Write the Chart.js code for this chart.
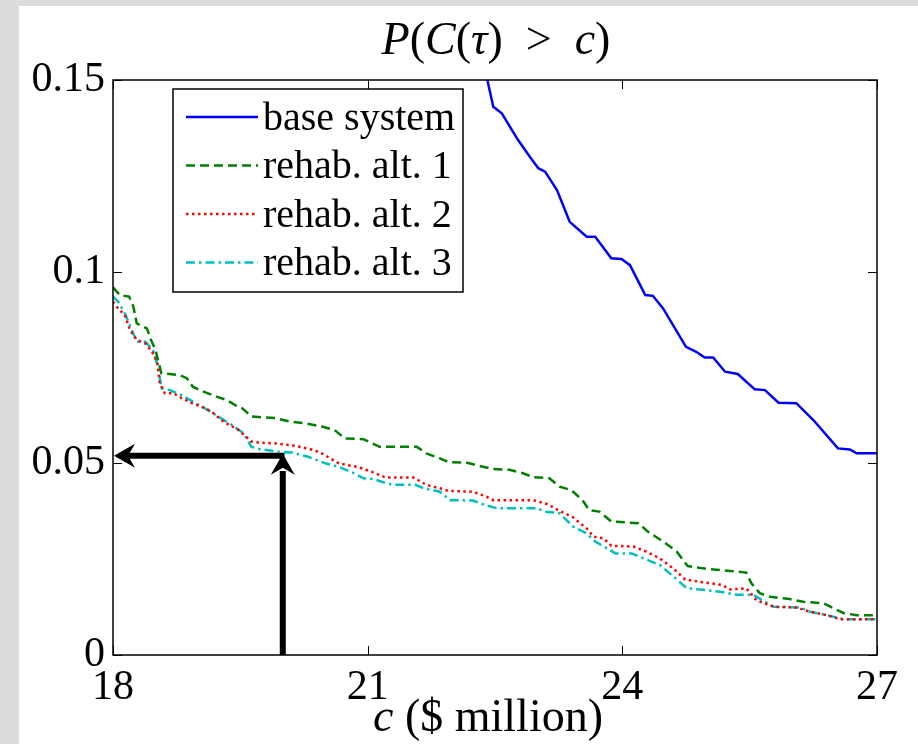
<!DOCTYPE html>
<html>
<head>
<meta charset="utf-8">
<script src="https://cdn.jsdelivr.net/npm/chart.js@4"></script>
<style>
  html, body { margin: 0; padding: 0; background: #dcdcdc; }
  #wrap { position: absolute; left: 19px; top: 6px; width: 899px; height: 738px; background: #ffffff; }
</style>
</head>
<body>
<div id="wrap"><canvas id="chart"></canvas></div>
<script>
// values (x in $ million, y = probability)
const baseX = [22.41, 22.48, 22.58, 22.77, 22.91, 23.01, 23.09, 23.23, 23.38, 23.58, 23.68, 23.87, 23.99, 24.09, 24.27, 24.36, 24.48, 24.75, 24.87, 24.97, 25.07, 25.21, 25.36, 25.56, 25.68, 25.84, 26.05, 26.25, 26.54, 26.68, 26.76, 27.0];
const baseY = [0.150, 0.143, 0.1413, 0.1344, 0.130, 0.127, 0.1261, 0.1213, 0.1130, 0.1091, 0.1091, 0.1035, 0.1033, 0.1017, 0.0939, 0.0937, 0.0904, 0.0804, 0.0791, 0.0776, 0.0776, 0.0739, 0.0733, 0.0693, 0.0691, 0.0658, 0.0657, 0.0613, 0.0539, 0.0536, 0.0526, 0.0526];

const alt1X = [18.0, 18.08, 18.19, 18.24, 18.28, 18.40, 18.44, 18.50, 18.57, 18.79, 18.87, 18.94, 19.02, 19.22, 19.34, 19.44, 19.52, 19.63, 19.91, 20.08, 20.28, 20.46, 20.61, 20.73, 20.95, 21.14, 21.58, 21.69, 21.85, 21.95, 22.16, 22.32, 22.48, 22.67, 22.83, 22.95, 23.14, 23.26, 23.40, 23.53, 23.61, 23.73, 23.87, 24.19, 24.30, 24.48, 24.64, 24.77, 24.95, 25.23, 25.46, 25.52, 25.62, 25.74, 25.97, 26.13, 26.37, 26.49, 26.61, 26.76, 27.0];
const alt1Y = [0.0959, 0.0939, 0.0935, 0.0909, 0.0865, 0.0852, 0.0826, 0.0796, 0.0735, 0.0730, 0.0722, 0.0700, 0.0691, 0.0674, 0.0665, 0.0652, 0.0644, 0.0622, 0.0618, 0.0609, 0.0604, 0.0596, 0.0587, 0.0565, 0.0563, 0.0543, 0.0543, 0.0526, 0.0513, 0.0503, 0.0502, 0.0493, 0.0485, 0.0483, 0.0474, 0.0464, 0.0461, 0.0439, 0.0430, 0.0404, 0.0378, 0.0374, 0.0348, 0.0344, 0.0322, 0.0296, 0.0270, 0.0232, 0.0226, 0.0220, 0.0215, 0.0187, 0.0161, 0.0152, 0.0146, 0.0139, 0.0135, 0.0122, 0.0109, 0.0104, 0.0104];

const alt2X = [18.0, 18.06, 18.14, 18.20, 18.28, 18.38, 18.46, 18.52, 18.55, 18.61, 18.71, 18.81, 18.93, 19.04, 19.16, 19.30, 19.48, 19.63, 19.73, 19.91, 20.14, 20.36, 20.46, 20.66, 20.89, 21.07, 21.21, 21.54, 21.69, 21.85, 21.95, 22.24, 22.40, 22.48, 22.95, 23.11, 23.26, 23.42, 23.58, 23.66, 23.78, 23.87, 24.13, 24.28, 24.44, 24.60, 24.74, 24.91, 25.17, 25.27, 25.46, 25.58, 25.78, 26.05, 26.21, 26.41, 26.57, 27.0];
const alt2Y = [0.0922, 0.0904, 0.0887, 0.0848, 0.0822, 0.0813, 0.0791, 0.0765, 0.0709, 0.0683, 0.0683, 0.0670, 0.0657, 0.0648, 0.0635, 0.0609, 0.0587, 0.0557, 0.0554, 0.0552, 0.0546, 0.0535, 0.0526, 0.0500, 0.0490, 0.0476, 0.0463, 0.0463, 0.0444, 0.0435, 0.0428, 0.0426, 0.0413, 0.0404, 0.0404, 0.0394, 0.0376, 0.0359, 0.0330, 0.0309, 0.0304, 0.0285, 0.0283, 0.0270, 0.0252, 0.0226, 0.0197, 0.0191, 0.0183, 0.0171, 0.0174, 0.0143, 0.0126, 0.0124, 0.0113, 0.0104, 0.0093, 0.0093];

const alt3X = [18.0, 18.06, 18.14, 18.22, 18.28, 18.38, 18.47, 18.53, 18.57, 18.67, 18.81, 18.94, 19.08, 19.24, 19.40, 19.54, 19.63, 19.73, 19.95, 20.11, 20.30, 20.50, 20.66, 20.84, 20.95, 21.07, 21.22, 21.30, 21.56, 21.66, 21.85, 21.97, 22.24, 22.40, 22.52, 22.99, 23.09, 23.26, 23.42, 23.58, 23.68, 23.82, 23.92, 24.11, 24.25, 24.44, 24.58, 24.76, 24.95, 25.15, 25.35, 25.54, 25.68, 25.78, 26.09, 26.21, 26.41, 26.61, 27.0];
const alt3Y = [0.0935, 0.0922, 0.0891, 0.0848, 0.0817, 0.0817, 0.0796, 0.0752, 0.0696, 0.0691, 0.0678, 0.0661, 0.0644, 0.0622, 0.0600, 0.0578, 0.0543, 0.0537, 0.0530, 0.0528, 0.0517, 0.0500, 0.0491, 0.0474, 0.0461, 0.0459, 0.0448, 0.0444, 0.0444, 0.0435, 0.0426, 0.0404, 0.0403, 0.0390, 0.0383, 0.0383, 0.0374, 0.0370, 0.0335, 0.0317, 0.0296, 0.0278, 0.0265, 0.0265, 0.0252, 0.0235, 0.0209, 0.0174, 0.0170, 0.0165, 0.0157, 0.0157, 0.0139, 0.0126, 0.0124, 0.0113, 0.0104, 0.0093, 0.0093];

const seriesNames = ['base system', 'rehab. alt. 1', 'rehab. alt. 2', 'rehab. alt. 3'];
const xTicks = [18, 21, 24, 27];
const yTicks = [0, 0.05, 0.1, 0.15];

// arrows: read-off point (c = 20, P = 0.052)
const arrowX = [20, 20, 18];
const arrowY = [0, 0.052, 0.052];

const SERIF = '"Liberation Serif", "DejaVu Serif", serif';

function pts(xs, ys) {
    let out = [];
    for (let i = 0; i < xs.length; i++) {
        out.push({ x: xs[i], y: ys[i] });
    }
    return out;
}

const styles = [
    { color: '#0000ff', dash: [] },
    { color: '#008000', dash: [9, 5] },
    { color: '#ff0000', dash: [2.5, 3.5] },
    { color: '#00bfbf', dash: [9, 4, 2.5, 4] }
];
const seriesData = [pts(baseX, baseY), pts(alt1X, alt1Y), pts(alt2X, alt2Y), pts(alt3X, alt3Y)];

let datasets = [];
for (let i = 0; i < seriesNames.length; i++) {
    datasets.push({
        label: seriesNames[i],
        data: seriesData[i],
        borderColor: styles[i].color,
        borderDash: styles[i].dash,
        borderWidth: 2.5,
        pointRadius: 0,
        tension: 0,
        fill: false
    });
}
// vertical then horizontal arrow shafts
datasets.push({
    label: 'arrowV',
    data: [{ x: arrowX[0], y: arrowY[0] }, { x: arrowX[1], y: arrowY[1] - 0.004 }],
    borderColor: '#000000', borderWidth: 6, pointRadius: 0, borderCapStyle: 'butt'
});
datasets.push({
    label: 'arrowH',
    data: [{ x: arrowX[1] + 0.02, y: arrowY[1] }, { x: arrowX[2] + 0.12, y: arrowY[2] }],
    borderColor: '#000000', borderWidth: 6, pointRadius: 0, borderCapStyle: 'butt'
});

// draw a row of text pieces with mixed italic / upright
function drawPieces(ctx, pieces, cx, cy, size) {
    let total = 0;
    for (let p of pieces) {
        ctx.font = (p[1] ? 'italic ' : '') + size + 'px ' + SERIF;
        total += ctx.measureText(p[0]).width;
    }
    let x = cx - total / 2;
    ctx.textAlign = 'left';
    ctx.textBaseline = 'middle';
    ctx.fillStyle = '#000';
    for (let p of pieces) {
        ctx.font = (p[1] ? 'italic ' : '') + size + 'px ' + SERIF;
        ctx.fillText(p[0], x, cy);
        x += ctx.measureText(p[0]).width;
    }
}

function arrowHead(ctx, x, y, dir) {
    // dir: 'up' or 'left'; tip at (x, y)
    ctx.save();
    ctx.translate(x, y);
    if (dir === 'left') ctx.rotate(-Math.PI / 2);
    ctx.beginPath();
    ctx.moveTo(0, 0);
    ctx.lineTo(-12, 21);
    ctx.lineTo(0, 14);
    ctx.lineTo(12, 21);
    ctx.closePath();
    ctx.fillStyle = '#000';
    ctx.fill();
    ctx.restore();
}

const matlabFrame = {
    id: 'matlabFrame',
    afterDatasetsDraw(chart) {
        const ctx = chart.ctx;
        const a = chart.chartArea;
        const xs = chart.scales.x, ys = chart.scales.y;
        ctx.save();

        arrowHead(ctx, xs.getPixelForValue(arrowX[1]), ys.getPixelForValue(arrowY[1]) - 2, 'up');
        arrowHead(ctx, xs.getPixelForValue(arrowX[2]) + 1, ys.getPixelForValue(arrowY[2]), 'left');

        ctx.strokeStyle = '#000';
        ctx.lineWidth = 1.5;
        ctx.strokeRect(a.left, a.top, a.right - a.left, a.bottom - a.top);
        ctx.beginPath();
        for (let t of xTicks) {
            let px = Math.round(xs.getPixelForValue(t)) + 0.5;
            ctx.moveTo(px, a.bottom); ctx.lineTo(px, a.bottom - 9);
            ctx.moveTo(px, a.top); ctx.lineTo(px, a.top + 9);
        }
        for (let t of yTicks) {
            let py = Math.round(ys.getPixelForValue(t)) + 0.5;
            ctx.moveTo(a.left, py); ctx.lineTo(a.left + 9, py);
            ctx.moveTo(a.right, py); ctx.lineTo(a.right - 9, py);
        }
        ctx.lineWidth = 1;
        ctx.stroke();

        // legend box
        const lx = a.left + 60, ly = a.top + 9, lw = 290, lh = 203;
        ctx.fillStyle = '#fff';
        ctx.fillRect(lx, ly, lw, lh);
        ctx.lineWidth = 1.5;
        ctx.strokeStyle = '#000';
        ctx.strokeRect(lx, ly, lw, lh);
        for (let i = 0; i < seriesNames.length; i++) {
            let ry = ly + 28 + i * 48.5;
            ctx.beginPath();
            ctx.setLineDash(styles[i].dash);
            ctx.strokeStyle = styles[i].color;
            ctx.lineWidth = 2.5;
            ctx.moveTo(lx + 13, ry);
            ctx.lineTo(lx + 85, ry);
            ctx.stroke();
            ctx.setLineDash([]);
            ctx.font = '40px ' + SERIF;
            ctx.fillStyle = '#000';
            ctx.textAlign = 'left';
            ctx.textBaseline = 'middle';
            ctx.fillText(seriesNames[i], lx + 90, ry + 2);
        }

        const cx = (a.left + a.right) / 2;
        drawPieces(ctx, [['P', true], ['(', false], ['C', true], ['(', false], ['\u03C4', true], [')', false], ['  >  ', false], ['c', true], [')', false]], cx + 1, 36, 46);
        drawPieces(ctx, [['c', true], [' ($ million)', false]], cx - 7, 713, 46);
        ctx.restore();
    }
};

new Chart(document.getElementById('chart'), {
    type: 'line',
    data: { datasets: datasets },
    options: {
        responsive: true,
        maintainAspectRatio: false,
        animation: false,
        layout: { padding: { top: 74, right: 41, bottom: 0, left: 0 } },
        plugins: {
            legend: { display: false },
            tooltip: { enabled: false }
        },
        scales: {
            x: {
                type: 'linear',
                min: 18, max: 27,
                afterFit: (s) => { s.height = 89; },
                afterBuildTicks: (s) => { s.ticks = xTicks.map(v => ({ value: v })); },
                grid: { display: false },
                border: { display: false },
                ticks: { color: '#000', font: { family: SERIF, size: 42 }, padding: 0, maxRotation: 0 }
            },
            y: {
                min: 0, max: 0.15,
                afterFit: (s) => { s.width = 94; },
                afterBuildTicks: (s) => { s.ticks = yTicks.map(v => ({ value: v })); },
                grid: { display: false },
                border: { display: false },
                ticks: {
                    color: '#000', font: { family: SERIF, size: 42 }, padding: 0,
                    callback: (v) => String(Math.round(v * 100) / 100)
                }
            }
        }
    },
    plugins: [matlabFrame]
});
</script>
</body>
</html>
